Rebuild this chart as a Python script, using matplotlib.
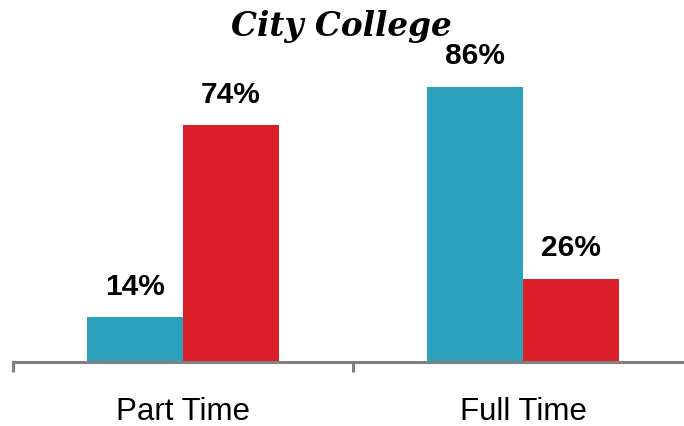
import matplotlib
matplotlib.use("Agg")
import matplotlib.pyplot as plt
import numpy as np

categories = ["Part Time", "Full Time"]
blue_vals = [14, 86]
red_vals = [74, 26]

blue = "#2CA2BF"
red = "#DA1F29"

fig = plt.figure(figsize=(6.84, 4.26), dpi=100)
ax = fig.add_axes([13/684, 64/426, 680/684, 320/426])

x = np.arange(len(categories))
w = 0.283
b1 = ax.bar(x - w/2, blue_vals, w, color=blue)
b2 = ax.bar(x + w/2, red_vals, w, color=red)

for bars, vals in ((b1, blue_vals), (b2, red_vals)):
    for r, v in zip(bars, vals):
        ax.annotate(f"{v}%", (r.get_x() + r.get_width()/2, v),
                    xytext=(0, 12), textcoords="offset points",
                    ha="center", va="bottom", fontsize=21.5, fontweight="bold",
                    family="Liberation Sans")

ax.set_xlim(-0.5, 1.5)
ax.set_ylim(0, 100)
for s in ("top", "right", "left"):
    ax.spines[s].set_visible(False)
ax.spines["bottom"].set_color("#808080")
ax.spines["bottom"].set_linewidth(2.2)
ax.set_yticks([])
ax.set_xticks(x)
ax.set_xticklabels(categories, fontsize=22.5, family="Liberation Sans")
ax.tick_params(axis="x", which="major", length=0, pad=25)
ax.set_xticks([-0.5, 0.5, 1.5], minor=True)
ax.tick_params(axis="x", which="minor", length=7, width=2.2, color="#808080")

fig.text(341/684, 1 - 36/426, "City College", ha="center", va="baseline",
         fontsize=23.5, fontweight="bold", fontstyle="italic", family="DejaVu Serif")

fig.savefig("out.png", dpi=100)
